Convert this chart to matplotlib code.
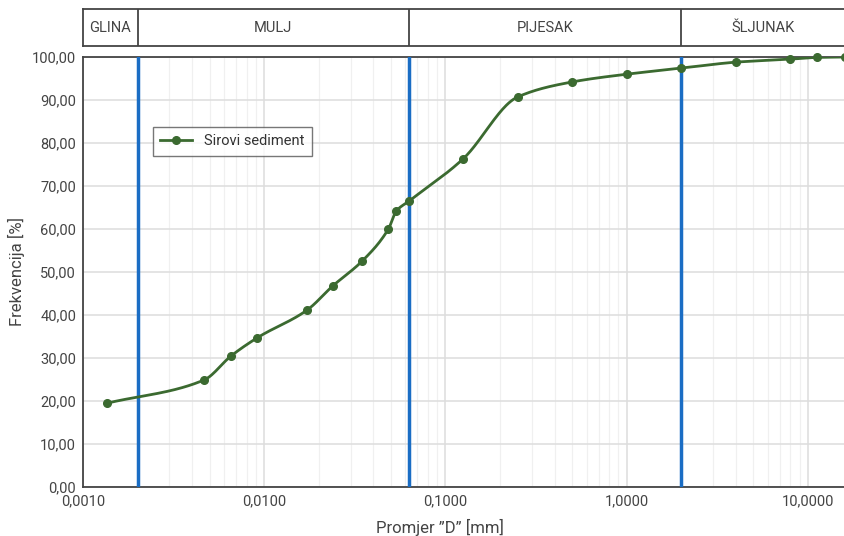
import numpy as np
import matplotlib
matplotlib.use("Agg")
import matplotlib.pyplot as plt
from matplotlib.ticker import FixedLocator, FuncFormatter, LogLocator, NullFormatter

plt.rcParams['font.family'] = ['Roboto', 'DejaVu Sans']

# ---- data ----
diameter_mm = [0.00136, 0.00466, 0.00657, 0.00915, 0.0173, 0.0238, 0.0348,
               0.0484, 0.0536, 0.063, 0.125, 0.25, 0.5, 1.0, 2.0, 4.0, 8.0, 11.2, 16.0]
frequency_pct = [19.5, 24.9, 30.5, 34.7, 41.2, 46.7, 52.6,
                 60.0, 64.2, 66.5, 76.3, 90.7, 94.2, 96.0, 97.4, 98.8, 99.5, 99.9, 100.0]
series_name = "Sirovi sediment"
class_bounds = [0.002, 0.063, 2.0]
class_names = ["GLINA", "MULJ", "PIJESAK", "ŠLJUNAK"]
x_ticks = [0.001, 0.01, 0.1, 1.0, 10.0]
y_ticks = [0, 10, 20, 30, 40, 50, 60, 70, 80, 90, 100]
x_min, x_max = 0.001, 15.8

GREEN = "#3b6a30"
BLUE = "#1a6dc4"
TXT = "#444444"
EDGE = "#444444"


def pchip(x, y, xn):
    x = np.asarray(x, float); y = np.asarray(y, float)
    h = np.diff(x); d = np.diff(y) / h
    n = len(x); m = np.zeros(n)
    for k in range(1, n - 1):
        if d[k - 1] * d[k] > 0:
            w1 = 2 * h[k] + h[k - 1]; w2 = h[k] + 2 * h[k - 1]
            m[k] = (w1 + w2) / (w1 / d[k - 1] + w2 / d[k])
    m[0] = d[0]; m[-1] = d[-1]
    out = np.empty_like(xn)
    idx = np.clip(np.searchsorted(x, xn) - 1, 0, n - 2)
    for j, (xv, i) in enumerate(zip(xn, idx)):
        t = (xv - x[i]) / h[i]
        h00 = 2 * t**3 - 3 * t**2 + 1; h10 = t**3 - 2 * t**2 + t
        h01 = -2 * t**3 + 3 * t**2; h11 = t**3 - t**2
        out[j] = h00 * y[i] + h10 * h[i] * m[i] + h01 * y[i + 1] + h11 * h[i] * m[i + 1]
    return out


fig = plt.figure(figsize=(8.44, 5.36), dpi=100)
ax = fig.add_axes([83 / 844, 49 / 536, (844 - 83) / 844, 430 / 536])
band = fig.add_axes([83 / 844, 490 / 536, (844 - 83) / 844, 37 / 536])

# smooth line through data (log-x space)
lx = np.log10(diameter_mm)
xs = np.linspace(lx[0], lx[-1], 600)
ys = pchip(lx, frequency_pct, xs)
ax.plot(10 ** xs, ys, color=GREEN, lw=2, zorder=4)
ax.plot(diameter_mm, frequency_pct, 'o', color=GREEN, ms=5.5, zorder=5, clip_on=False)
ax.plot([], [], '-o', color=GREEN, lw=2, ms=5.5, label=series_name)

for b in class_bounds:
    ax.axvline(b, color=BLUE, lw=2.5, zorder=3)

ax.set_xscale('log')
ax.set_xlim(x_min, x_max)
ax.set_ylim(0, 100)
ax.xaxis.set_major_locator(FixedLocator(x_ticks))
ax.xaxis.set_minor_locator(LogLocator(base=10, subs=np.arange(2, 10)))
ax.xaxis.set_minor_formatter(NullFormatter())
ax.xaxis.set_major_formatter(FuncFormatter(lambda v, p: f"{v:.4f}".replace('.', ',')))
ax.yaxis.set_major_locator(FixedLocator(y_ticks))
ax.yaxis.set_major_formatter(FuncFormatter(lambda v, p: f"{v:.2f}".replace('.', ',')))
ax.grid(True, which='major', color='#dddddd', lw=1.1, zorder=0)
ax.grid(True, which='minor', axis='x', color='#f0f0f0', lw=0.9, zorder=0)
ax.set_axisbelow(True)
ax.tick_params(axis='both', which='both', length=0, labelsize=10.5, colors=TXT, pad=5)
for s in ['left', 'bottom', 'top']:
    ax.spines[s].set_color(EDGE); ax.spines[s].set_linewidth(1.3)
ax.spines['right'].set_visible(False)
ax.set_ylabel("Frekvencija [%]", fontsize=12, color=TXT)
ax.yaxis.set_label_coords(-(83 - 25) / 761, 0.5)
ax.set_xlabel("Promjer \u201dD\u201d [mm]", fontsize=12, color=TXT)
ax.xaxis.set_label_coords((440 - 83) / (844 - 83), -0.075)

leg = ax.legend(loc='upper left', bbox_to_anchor=((153 - 83) / 761, (487 - 127) / 430),
                frameon=True, fancybox=False, fontsize=10.5, handlelength=2.2,
                borderpad=0.5, borderaxespad=0)
leg.get_frame().set_edgecolor('#555555'); leg.get_frame().set_linewidth(1.0)
for t in leg.get_texts():
    t.set_color('#333333')

# class band
band.set_xscale('log')
band.set_xlim(x_min, x_max)
band.set_ylim(0, 1)
band.set_xticks([]); band.set_yticks([])
band.minorticks_off()
for s in band.spines.values():
    s.set_color(EDGE); s.set_linewidth(1.3)
band.spines['right'].set_visible(False)
edges = [x_min] + class_bounds + [x_max]
for b in class_bounds:
    band.axvline(b, color=EDGE, lw=1.3)
for i, name in enumerate(class_names):
    c = 10 ** ((np.log10(edges[i]) + np.log10(edges[i + 1])) / 2)
    band.text(c, 0.5, name, ha='center', va='center', fontsize=10.5, color=TXT)

fig.savefig("out.png", dpi=100)
